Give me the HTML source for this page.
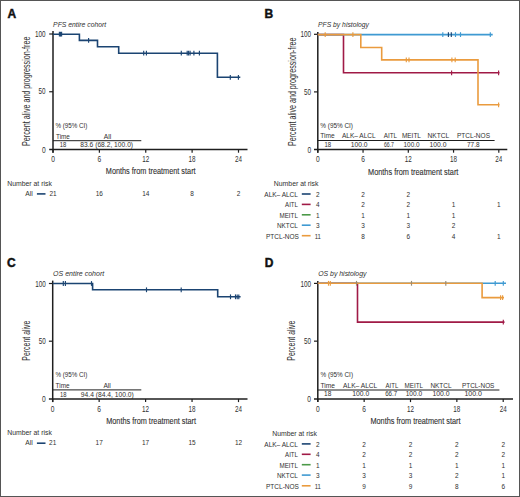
<!DOCTYPE html>
<html><head><meta charset="utf-8"><style>
html,body{margin:0;padding:0;background:#fff;}
svg{display:block;}
text{font-family:"Liberation Sans",sans-serif;}
</style></head><body>
<svg width="520" height="497" viewBox="0 0 520 497" fill="#303030">
<rect width="520" height="497" fill="#fff"/>
<rect x="0.5" y="0.5" width="519" height="496" fill="none" stroke="#555" stroke-width="1"/>
<text x="7.40" y="17.50" font-size="12" font-weight="bold" fill="#111" stroke="#111" stroke-width="0.45">A</text>
<text x="264.60" y="17.50" font-size="12" font-weight="bold" fill="#111" stroke="#111" stroke-width="0.45">B</text>
<text x="6.90" y="266.80" font-size="12" font-weight="bold" fill="#111" stroke="#111" stroke-width="0.45">C</text>
<text x="264.80" y="266.80" font-size="12" font-weight="bold" fill="#111" stroke="#111" stroke-width="0.45">D</text>
<text x="53.10" y="26.50" font-size="7.7" font-style="italic" textLength="53.10" lengthAdjust="spacingAndGlyphs">PFS entire cohort</text>
<text x="318.10" y="26.50" font-size="7.7" font-style="italic" textLength="50.70" lengthAdjust="spacingAndGlyphs">PFS by histology</text>
<text x="53.10" y="276.10" font-size="7.7" font-style="italic" textLength="51.10" lengthAdjust="spacingAndGlyphs">OS entire cohort</text>
<text x="318.20" y="276.10" font-size="7.7" font-style="italic" textLength="48.30" lengthAdjust="spacingAndGlyphs">OS by histology</text>
<text x="105.80" y="174.40" font-size="9.8" textLength="89.80" lengthAdjust="spacingAndGlyphs" stroke="#303030" stroke-width="0.12">Months from treatment start</text>
<text x="368.00" y="174.80" font-size="9.8" textLength="90.40" lengthAdjust="spacingAndGlyphs" stroke="#303030" stroke-width="0.12">Months from treatment start</text>
<text x="106.20" y="423.90" font-size="9.8" textLength="89.80" lengthAdjust="spacingAndGlyphs" stroke="#303030" stroke-width="0.12">Months from treatment start</text>
<text x="370.40" y="424.20" font-size="9.8" textLength="90.10" lengthAdjust="spacingAndGlyphs" stroke="#303030" stroke-width="0.12">Months from treatment start</text>
<text transform="translate(30.00,145.90) rotate(-90)" x="0" y="0" font-size="10.0" textLength="109.30" lengthAdjust="spacingAndGlyphs">Percent alive and progression-free</text>
<text transform="translate(295.60,145.90) rotate(-90)" x="0" y="0" font-size="10.0" textLength="108.30" lengthAdjust="spacingAndGlyphs">Percent alive and progression-free</text>
<text transform="translate(29.60,360.70) rotate(-90)" x="0" y="0" font-size="10.0" textLength="40.10" lengthAdjust="spacingAndGlyphs">Percent alive</text>
<text transform="translate(295.40,360.70) rotate(-90)" x="0" y="0" font-size="10.0" textLength="40.10" lengthAdjust="spacingAndGlyphs">Percent alive</text>
<text x="55.50" y="128.10" font-size="6.5" textLength="31.90" lengthAdjust="spacingAndGlyphs">% (95% CI)</text>
<text x="56.00" y="138.50" font-size="6.5" textLength="13.90" lengthAdjust="spacingAndGlyphs">Time</text>
<text x="103.80" y="138.50" font-size="6.5" textLength="7.40" lengthAdjust="spacingAndGlyphs">All</text>
<line x1="53.00" y1="140.70" x2="141.30" y2="140.70" stroke="#1e1e1e" stroke-width="1.0"/>
<text x="59.80" y="146.90" font-size="6.5" textLength="6.50" lengthAdjust="spacingAndGlyphs">18</text>
<text x="80.30" y="146.90" font-size="6.5" textLength="52.80" lengthAdjust="spacingAndGlyphs">83.6 (68.2, 100.0)</text>
<text x="55.40" y="377.20" font-size="6.5" textLength="31.90" lengthAdjust="spacingAndGlyphs">% (95% CI)</text>
<text x="55.60" y="387.60" font-size="6.5" textLength="14.00" lengthAdjust="spacingAndGlyphs">Time</text>
<text x="103.40" y="387.60" font-size="6.5" textLength="7.40" lengthAdjust="spacingAndGlyphs">All</text>
<line x1="52.70" y1="389.90" x2="141.30" y2="389.90" stroke="#1e1e1e" stroke-width="1.0"/>
<text x="60.00" y="396.50" font-size="6.5" textLength="6.50" lengthAdjust="spacingAndGlyphs">18</text>
<text x="80.80" y="396.50" font-size="6.5" textLength="53.00" lengthAdjust="spacingAndGlyphs">94.4 (84.4, 100.0)</text>
<text x="320.30" y="127.80" font-size="6.5" textLength="32.70" lengthAdjust="spacingAndGlyphs">% (95% CI)</text>
<text x="320.30" y="138.10" font-size="6.5" textLength="14.40" lengthAdjust="spacingAndGlyphs">Time</text>
<text x="342.00" y="138.10" font-size="6.5" textLength="33.60" lengthAdjust="spacingAndGlyphs">ALK– ALCL</text>
<text x="383.80" y="138.10" font-size="6.5" textLength="13.30" lengthAdjust="spacingAndGlyphs">AITL</text>
<text x="401.90" y="138.10" font-size="6.5" textLength="19.10" lengthAdjust="spacingAndGlyphs">MEITL</text>
<text x="427.60" y="138.10" font-size="6.5" textLength="21.70" lengthAdjust="spacingAndGlyphs">NKTCL</text>
<text x="457.00" y="138.10" font-size="6.5" textLength="33.00" lengthAdjust="spacingAndGlyphs">PTCL-NOS</text>
<line x1="317.80" y1="140.50" x2="494.60" y2="140.50" stroke="#1e1e1e" stroke-width="1.0"/>
<text x="324.50" y="146.70" font-size="6.5" textLength="6.70" lengthAdjust="spacingAndGlyphs">18</text>
<text x="350.70" y="146.70" font-size="6.5" textLength="16.80" lengthAdjust="spacingAndGlyphs">100.0</text>
<text x="383.90" y="146.70" font-size="6.5" textLength="10.10" lengthAdjust="spacingAndGlyphs">66.7</text>
<text x="403.50" y="146.70" font-size="6.5" textLength="16.10" lengthAdjust="spacingAndGlyphs">100.0</text>
<text x="429.50" y="146.70" font-size="6.5" textLength="17.00" lengthAdjust="spacingAndGlyphs">100.0</text>
<text x="467.00" y="146.70" font-size="6.5" textLength="12.60" lengthAdjust="spacingAndGlyphs">77.8</text>
<text x="320.50" y="377.00" font-size="6.5" textLength="32.50" lengthAdjust="spacingAndGlyphs">% (95% CI)</text>
<text x="320.50" y="387.60" font-size="6.5" textLength="14.50" lengthAdjust="spacingAndGlyphs">Time</text>
<text x="343.10" y="387.60" font-size="6.5" textLength="34.20" lengthAdjust="spacingAndGlyphs">ALK– ALCL</text>
<text x="385.60" y="387.60" font-size="6.5" textLength="12.70" lengthAdjust="spacingAndGlyphs">AITL</text>
<text x="404.50" y="387.60" font-size="6.5" textLength="18.50" lengthAdjust="spacingAndGlyphs">MEITL</text>
<text x="430.40" y="387.60" font-size="6.5" textLength="21.20" lengthAdjust="spacingAndGlyphs">NKTCL</text>
<text x="462.00" y="387.60" font-size="6.5" textLength="32.40" lengthAdjust="spacingAndGlyphs">PTCL-NOS</text>
<line x1="317.80" y1="390.00" x2="499.40" y2="390.00" stroke="#1e1e1e" stroke-width="1.0"/>
<text x="324.10" y="396.40" font-size="6.5" textLength="7.30" lengthAdjust="spacingAndGlyphs">18</text>
<text x="352.20" y="396.40" font-size="6.5" textLength="17.10" lengthAdjust="spacingAndGlyphs">100.0</text>
<text x="385.20" y="396.40" font-size="6.5" textLength="12.00" lengthAdjust="spacingAndGlyphs">66.7</text>
<text x="405.70" y="396.40" font-size="6.5" textLength="16.50" lengthAdjust="spacingAndGlyphs">100.0</text>
<text x="432.40" y="396.40" font-size="6.5" textLength="17.20" lengthAdjust="spacingAndGlyphs">100.0</text>
<text x="464.40" y="396.40" font-size="6.5" textLength="17.60" lengthAdjust="spacingAndGlyphs">100.0</text>
<line x1="53.00" y1="31.00" x2="53.00" y2="152.70" stroke="#1e1e1e" stroke-width="1.5"/>
<line x1="49.20" y1="149.50" x2="247.50" y2="149.50" stroke="#1e1e1e" stroke-width="1.5"/>
<line x1="49.20" y1="34.00" x2="53.00" y2="34.00" stroke="#1e1e1e" stroke-width="1.2"/>
<line x1="49.20" y1="91.75" x2="53.00" y2="91.75" stroke="#1e1e1e" stroke-width="1.2"/>
<line x1="53.00" y1="149.50" x2="53.00" y2="152.70" stroke="#1e1e1e" stroke-width="1.2"/>
<line x1="99.38" y1="149.50" x2="99.38" y2="152.70" stroke="#1e1e1e" stroke-width="1.2"/>
<line x1="145.75" y1="149.50" x2="145.75" y2="152.70" stroke="#1e1e1e" stroke-width="1.2"/>
<line x1="192.12" y1="149.50" x2="192.12" y2="152.70" stroke="#1e1e1e" stroke-width="1.2"/>
<line x1="238.50" y1="149.50" x2="238.50" y2="152.70" stroke="#1e1e1e" stroke-width="1.2"/>
<text x="35.00" y="37.10" font-size="8.2" textLength="10.60" lengthAdjust="spacingAndGlyphs">100</text>
<text x="38.60" y="94.35" font-size="8.2" textLength="7.00" lengthAdjust="spacingAndGlyphs">50</text>
<text x="41.90" y="152.60" font-size="8.2" textLength="3.70" lengthAdjust="spacingAndGlyphs">0</text>
<text x="51.15" y="162.30" font-size="8.2" textLength="3.70" lengthAdjust="spacingAndGlyphs">0</text>
<text x="97.53" y="162.30" font-size="8.2" textLength="3.70" lengthAdjust="spacingAndGlyphs">6</text>
<text x="142.25" y="162.30" font-size="8.2" textLength="7.00" lengthAdjust="spacingAndGlyphs">12</text>
<text x="188.62" y="162.30" font-size="8.2" textLength="7.00" lengthAdjust="spacingAndGlyphs">18</text>
<text x="235.00" y="162.30" font-size="8.2" textLength="7.00" lengthAdjust="spacingAndGlyphs">24</text>
<line x1="317.80" y1="32.00" x2="317.80" y2="152.70" stroke="#1e1e1e" stroke-width="1.5"/>
<line x1="314.00" y1="149.50" x2="507.30" y2="149.50" stroke="#1e1e1e" stroke-width="1.5"/>
<line x1="314.00" y1="34.30" x2="317.80" y2="34.30" stroke="#1e1e1e" stroke-width="1.2"/>
<line x1="314.00" y1="91.90" x2="317.80" y2="91.90" stroke="#1e1e1e" stroke-width="1.2"/>
<line x1="317.80" y1="149.50" x2="317.80" y2="152.70" stroke="#1e1e1e" stroke-width="1.2"/>
<line x1="363.05" y1="149.50" x2="363.05" y2="152.70" stroke="#1e1e1e" stroke-width="1.2"/>
<line x1="408.30" y1="149.50" x2="408.30" y2="152.70" stroke="#1e1e1e" stroke-width="1.2"/>
<line x1="453.55" y1="149.50" x2="453.55" y2="152.70" stroke="#1e1e1e" stroke-width="1.2"/>
<line x1="498.80" y1="149.50" x2="498.80" y2="152.70" stroke="#1e1e1e" stroke-width="1.2"/>
<text x="300.50" y="37.40" font-size="8.2" textLength="10.60" lengthAdjust="spacingAndGlyphs">100</text>
<text x="304.10" y="94.50" font-size="8.2" textLength="7.00" lengthAdjust="spacingAndGlyphs">50</text>
<text x="307.40" y="152.60" font-size="8.2" textLength="3.70" lengthAdjust="spacingAndGlyphs">0</text>
<text x="315.95" y="162.30" font-size="8.2" textLength="3.70" lengthAdjust="spacingAndGlyphs">0</text>
<text x="361.20" y="162.30" font-size="8.2" textLength="3.70" lengthAdjust="spacingAndGlyphs">6</text>
<text x="404.80" y="162.30" font-size="8.2" textLength="7.00" lengthAdjust="spacingAndGlyphs">12</text>
<text x="450.05" y="162.30" font-size="8.2" textLength="7.00" lengthAdjust="spacingAndGlyphs">18</text>
<text x="495.30" y="162.30" font-size="8.2" textLength="7.00" lengthAdjust="spacingAndGlyphs">24</text>
<line x1="52.70" y1="280.60" x2="52.70" y2="402.10" stroke="#1e1e1e" stroke-width="1.5"/>
<line x1="48.90" y1="398.90" x2="247.50" y2="398.90" stroke="#1e1e1e" stroke-width="1.5"/>
<line x1="48.90" y1="283.50" x2="52.70" y2="283.50" stroke="#1e1e1e" stroke-width="1.2"/>
<line x1="48.90" y1="341.20" x2="52.70" y2="341.20" stroke="#1e1e1e" stroke-width="1.2"/>
<line x1="52.70" y1="398.90" x2="52.70" y2="402.10" stroke="#1e1e1e" stroke-width="1.2"/>
<line x1="99.15" y1="398.90" x2="99.15" y2="402.10" stroke="#1e1e1e" stroke-width="1.2"/>
<line x1="145.60" y1="398.90" x2="145.60" y2="402.10" stroke="#1e1e1e" stroke-width="1.2"/>
<line x1="192.05" y1="398.90" x2="192.05" y2="402.10" stroke="#1e1e1e" stroke-width="1.2"/>
<line x1="238.50" y1="398.90" x2="238.50" y2="402.10" stroke="#1e1e1e" stroke-width="1.2"/>
<text x="35.20" y="286.60" font-size="8.2" textLength="10.60" lengthAdjust="spacingAndGlyphs">100</text>
<text x="38.80" y="343.80" font-size="8.2" textLength="7.00" lengthAdjust="spacingAndGlyphs">50</text>
<text x="42.10" y="402.00" font-size="8.2" textLength="3.70" lengthAdjust="spacingAndGlyphs">0</text>
<text x="50.85" y="411.70" font-size="8.2" textLength="3.70" lengthAdjust="spacingAndGlyphs">0</text>
<text x="97.30" y="411.70" font-size="8.2" textLength="3.70" lengthAdjust="spacingAndGlyphs">6</text>
<text x="142.10" y="411.70" font-size="8.2" textLength="7.00" lengthAdjust="spacingAndGlyphs">12</text>
<text x="188.55" y="411.70" font-size="8.2" textLength="7.00" lengthAdjust="spacingAndGlyphs">18</text>
<text x="235.00" y="411.70" font-size="8.2" textLength="7.00" lengthAdjust="spacingAndGlyphs">24</text>
<line x1="317.80" y1="281.00" x2="317.80" y2="402.10" stroke="#1e1e1e" stroke-width="1.5"/>
<line x1="314.00" y1="398.90" x2="513.00" y2="398.90" stroke="#1e1e1e" stroke-width="1.5"/>
<line x1="314.00" y1="283.40" x2="317.80" y2="283.40" stroke="#1e1e1e" stroke-width="1.2"/>
<line x1="314.00" y1="341.15" x2="317.80" y2="341.15" stroke="#1e1e1e" stroke-width="1.2"/>
<line x1="317.80" y1="398.90" x2="317.80" y2="402.10" stroke="#1e1e1e" stroke-width="1.2"/>
<line x1="364.15" y1="398.90" x2="364.15" y2="402.10" stroke="#1e1e1e" stroke-width="1.2"/>
<line x1="410.50" y1="398.90" x2="410.50" y2="402.10" stroke="#1e1e1e" stroke-width="1.2"/>
<line x1="456.85" y1="398.90" x2="456.85" y2="402.10" stroke="#1e1e1e" stroke-width="1.2"/>
<line x1="503.20" y1="398.90" x2="503.20" y2="402.10" stroke="#1e1e1e" stroke-width="1.2"/>
<text x="300.40" y="286.50" font-size="8.2" textLength="10.60" lengthAdjust="spacingAndGlyphs">100</text>
<text x="304.00" y="343.75" font-size="8.2" textLength="7.00" lengthAdjust="spacingAndGlyphs">50</text>
<text x="307.30" y="402.00" font-size="8.2" textLength="3.70" lengthAdjust="spacingAndGlyphs">0</text>
<text x="315.95" y="411.70" font-size="8.2" textLength="3.70" lengthAdjust="spacingAndGlyphs">0</text>
<text x="362.30" y="411.70" font-size="8.2" textLength="3.70" lengthAdjust="spacingAndGlyphs">6</text>
<text x="407.00" y="411.70" font-size="8.2" textLength="7.00" lengthAdjust="spacingAndGlyphs">12</text>
<text x="453.35" y="411.70" font-size="8.2" textLength="7.00" lengthAdjust="spacingAndGlyphs">18</text>
<text x="499.70" y="411.70" font-size="8.2" textLength="7.00" lengthAdjust="spacingAndGlyphs">24</text>
<path d="M53.00,34.20 L79.40,34.20 L79.40,40.40 L97.50,40.40 L97.50,46.80 L118.70,46.80 L118.70,53.20 L217.40,53.20 L217.40,77.30 L240.30,77.30" fill="none" stroke="#1b4472" stroke-width="1.6" stroke-linejoin="miter" stroke-linecap="butt"/>
<line x1="59.40" y1="31.80" x2="59.40" y2="36.60" stroke="#1b4472" stroke-width="1.15"/>
<line x1="60.50" y1="31.80" x2="60.50" y2="36.60" stroke="#1b4472" stroke-width="1.15"/>
<line x1="61.60" y1="31.80" x2="61.60" y2="36.60" stroke="#1b4472" stroke-width="1.15"/>
<line x1="88.60" y1="38.00" x2="88.60" y2="42.80" stroke="#1b4472" stroke-width="1.15"/>
<line x1="143.70" y1="50.80" x2="143.70" y2="55.60" stroke="#1b4472" stroke-width="1.15"/>
<line x1="146.40" y1="50.80" x2="146.40" y2="55.60" stroke="#1b4472" stroke-width="1.15"/>
<line x1="181.30" y1="50.80" x2="181.30" y2="55.60" stroke="#1b4472" stroke-width="1.15"/>
<line x1="187.20" y1="50.80" x2="187.20" y2="55.60" stroke="#1b4472" stroke-width="1.15"/>
<line x1="188.60" y1="50.80" x2="188.60" y2="55.60" stroke="#1b4472" stroke-width="1.15"/>
<line x1="190.10" y1="50.80" x2="190.10" y2="55.60" stroke="#1b4472" stroke-width="1.15"/>
<line x1="193.90" y1="50.80" x2="193.90" y2="55.60" stroke="#1b4472" stroke-width="1.15"/>
<line x1="199.40" y1="50.80" x2="199.40" y2="55.60" stroke="#1b4472" stroke-width="1.15"/>
<line x1="230.30" y1="74.90" x2="230.30" y2="79.70" stroke="#1b4472" stroke-width="1.15"/>
<line x1="238.40" y1="74.90" x2="238.40" y2="79.70" stroke="#1b4472" stroke-width="1.15"/>
<path d="M317.80,34.60 L343.50,34.60 L343.50,72.80 L499.50,72.80" fill="none" stroke="#a01a46" stroke-width="1.6" stroke-linejoin="miter" stroke-linecap="butt"/>
<path d="M317.80,34.60 L492.70,34.60" fill="none" stroke="#3f9ad2" stroke-width="1.6" stroke-linejoin="miter" stroke-linecap="butt"/>
<line x1="442.80" y1="32.20" x2="442.80" y2="37.00" stroke="#3f9ad2" stroke-width="1.15"/>
<line x1="455.50" y1="32.20" x2="455.50" y2="37.00" stroke="#3f9ad2" stroke-width="1.15"/>
<line x1="460.50" y1="32.20" x2="460.50" y2="37.00" stroke="#3f9ad2" stroke-width="1.15"/>
<line x1="490.30" y1="32.20" x2="490.30" y2="37.00" stroke="#3f9ad2" stroke-width="1.15"/>
<line x1="448.40" y1="32.20" x2="448.40" y2="37.00" stroke="#1b4472" stroke-width="1.15"/>
<line x1="451.30" y1="32.20" x2="451.30" y2="37.00" stroke="#1b4472" stroke-width="1.15"/>
<line x1="451.60" y1="70.40" x2="451.60" y2="75.20" stroke="#a01a46" stroke-width="1.15"/>
<line x1="498.60" y1="70.40" x2="498.60" y2="75.20" stroke="#a01a46" stroke-width="1.15"/>
<path d="M317.80,34.60 L360.80,34.60 L360.80,47.50 L381.70,47.50 L381.70,59.90 L478.00,59.90 L478.00,104.80 L499.50,104.80" fill="none" stroke="#ea9b3e" stroke-width="1.6" stroke-linejoin="miter" stroke-linecap="butt"/>
<line x1="325.20" y1="32.20" x2="325.20" y2="37.00" stroke="#ea9b3e" stroke-width="1.15"/>
<line x1="352.90" y1="32.20" x2="352.90" y2="37.00" stroke="#ea9b3e" stroke-width="1.15"/>
<line x1="406.30" y1="57.50" x2="406.30" y2="62.30" stroke="#ea9b3e" stroke-width="1.15"/>
<line x1="409.00" y1="57.50" x2="409.00" y2="62.30" stroke="#ea9b3e" stroke-width="1.15"/>
<line x1="451.90" y1="57.50" x2="451.90" y2="62.30" stroke="#ea9b3e" stroke-width="1.15"/>
<line x1="455.20" y1="57.50" x2="455.20" y2="62.30" stroke="#ea9b3e" stroke-width="1.15"/>
<line x1="498.60" y1="102.40" x2="498.60" y2="107.20" stroke="#ea9b3e" stroke-width="1.15"/>
<path d="M52.70,283.50 L92.60,283.50 L92.60,289.80 L217.70,289.80 L217.70,296.80 L240.60,296.80" fill="none" stroke="#1b4472" stroke-width="1.6" stroke-linejoin="miter" stroke-linecap="butt"/>
<line x1="63.30" y1="281.10" x2="63.30" y2="285.90" stroke="#1b4472" stroke-width="1.15"/>
<line x1="65.40" y1="281.10" x2="65.40" y2="285.90" stroke="#1b4472" stroke-width="1.15"/>
<line x1="91.50" y1="281.10" x2="91.50" y2="285.90" stroke="#1b4472" stroke-width="1.15"/>
<line x1="146.50" y1="287.40" x2="146.50" y2="292.20" stroke="#1b4472" stroke-width="1.15"/>
<line x1="181.20" y1="287.40" x2="181.20" y2="292.20" stroke="#1b4472" stroke-width="1.15"/>
<line x1="230.50" y1="294.40" x2="230.50" y2="299.20" stroke="#1b4472" stroke-width="1.15"/>
<line x1="235.50" y1="294.40" x2="235.50" y2="299.20" stroke="#1b4472" stroke-width="1.15"/>
<line x1="237.20" y1="294.40" x2="237.20" y2="299.20" stroke="#1b4472" stroke-width="1.15"/>
<line x1="238.80" y1="294.40" x2="238.80" y2="299.20" stroke="#1b4472" stroke-width="1.15"/>
<path d="M317.80,283.30 L357.50,283.30 L357.50,322.10 L504.50,322.10" fill="none" stroke="#a01a46" stroke-width="1.6" stroke-linejoin="miter" stroke-linecap="butt"/>
<path d="M317.80,283.30 L506.00,283.30" fill="none" stroke="#3f9ad2" stroke-width="1.6" stroke-linejoin="miter" stroke-linecap="butt"/>
<line x1="495.20" y1="280.90" x2="495.20" y2="285.70" stroke="#3f9ad2" stroke-width="1.15"/>
<line x1="503.30" y1="280.90" x2="503.30" y2="285.70" stroke="#3f9ad2" stroke-width="1.15"/>
<line x1="503.30" y1="319.70" x2="503.30" y2="324.50" stroke="#a01a46" stroke-width="1.15"/>
<path d="M317.80,283.30 L482.10,283.30 L482.10,297.60 L504.00,297.60" fill="none" stroke="#ea9b3e" stroke-width="1.6" stroke-linejoin="miter" stroke-linecap="butt"/>
<line x1="328.50" y1="280.90" x2="328.50" y2="285.70" stroke="#ea9b3e" stroke-width="1.15"/>
<line x1="330.30" y1="280.90" x2="330.30" y2="285.70" stroke="#ea9b3e" stroke-width="1.15"/>
<line x1="356.50" y1="280.90" x2="356.50" y2="285.70" stroke="#9c8c72" stroke-width="1.15"/>
<line x1="411.50" y1="280.90" x2="411.50" y2="285.70" stroke="#9c8c72" stroke-width="1.15"/>
<line x1="445.80" y1="280.90" x2="445.80" y2="285.70" stroke="#9c8c72" stroke-width="1.15"/>
<line x1="500.60" y1="295.20" x2="500.60" y2="300.00" stroke="#ea9b3e" stroke-width="1.15"/>
<line x1="502.60" y1="295.20" x2="502.60" y2="300.00" stroke="#ea9b3e" stroke-width="1.15"/>
<text x="7.20" y="185.50" font-size="6.5" textLength="44.70" lengthAdjust="spacingAndGlyphs">Number at risk</text>
<text x="25.30" y="195.80" font-size="6.5" textLength="7.50" lengthAdjust="spacingAndGlyphs">All</text>
<line x1="36.90" y1="193.90" x2="45.50" y2="193.90" stroke="#1b4472" stroke-width="1.6"/>
<text x="49.40" y="195.80" font-size="6.5" textLength="7.20" lengthAdjust="spacingAndGlyphs">21</text>
<text x="95.78" y="195.80" font-size="6.5" textLength="7.20" lengthAdjust="spacingAndGlyphs">16</text>
<text x="142.15" y="195.80" font-size="6.5" textLength="7.20" lengthAdjust="spacingAndGlyphs">14</text>
<text x="190.32" y="195.80" font-size="6.5" textLength="3.60" lengthAdjust="spacingAndGlyphs">8</text>
<text x="236.70" y="195.80" font-size="6.5" textLength="3.60" lengthAdjust="spacingAndGlyphs">2</text>
<text x="7.20" y="434.80" font-size="6.5" textLength="44.70" lengthAdjust="spacingAndGlyphs">Number at risk</text>
<text x="25.30" y="445.10" font-size="6.5" textLength="7.50" lengthAdjust="spacingAndGlyphs">All</text>
<line x1="36.90" y1="443.20" x2="45.50" y2="443.20" stroke="#1b4472" stroke-width="1.6"/>
<text x="49.10" y="445.10" font-size="6.5" textLength="7.20" lengthAdjust="spacingAndGlyphs">21</text>
<text x="95.55" y="445.10" font-size="6.5" textLength="7.20" lengthAdjust="spacingAndGlyphs">17</text>
<text x="142.00" y="445.10" font-size="6.5" textLength="7.20" lengthAdjust="spacingAndGlyphs">17</text>
<text x="188.45" y="445.10" font-size="6.5" textLength="7.20" lengthAdjust="spacingAndGlyphs">15</text>
<text x="234.90" y="445.10" font-size="6.5" textLength="7.20" lengthAdjust="spacingAndGlyphs">12</text>
<text x="273.80" y="185.90" font-size="6.5" textLength="44.70" lengthAdjust="spacingAndGlyphs">Number at risk</text>
<text x="264.30" y="196.80" font-size="6.5" textLength="33.60" lengthAdjust="spacingAndGlyphs">ALK– ALCL</text>
<line x1="301.80" y1="194.00" x2="310.60" y2="194.00" stroke="#1b4472" stroke-width="1.6"/>
<text x="316.00" y="196.80" font-size="6.5" textLength="3.60" lengthAdjust="spacingAndGlyphs">2</text>
<text x="361.25" y="196.80" font-size="6.5" textLength="3.60" lengthAdjust="spacingAndGlyphs">2</text>
<text x="406.50" y="196.80" font-size="6.5" textLength="3.60" lengthAdjust="spacingAndGlyphs">2</text>
<text x="285.10" y="207.20" font-size="6.5" textLength="12.80" lengthAdjust="spacingAndGlyphs">AITL</text>
<line x1="301.80" y1="204.40" x2="310.60" y2="204.40" stroke="#a01a46" stroke-width="1.6"/>
<text x="316.00" y="207.20" font-size="6.5" textLength="3.60" lengthAdjust="spacingAndGlyphs">4</text>
<text x="361.25" y="207.20" font-size="6.5" textLength="3.60" lengthAdjust="spacingAndGlyphs">2</text>
<text x="406.50" y="207.20" font-size="6.5" textLength="3.60" lengthAdjust="spacingAndGlyphs">2</text>
<text x="451.75" y="207.20" font-size="6.5" textLength="3.60" lengthAdjust="spacingAndGlyphs">1</text>
<text x="497.00" y="207.20" font-size="6.5" textLength="3.60" lengthAdjust="spacingAndGlyphs">1</text>
<text x="279.50" y="217.60" font-size="6.5" textLength="18.40" lengthAdjust="spacingAndGlyphs">MEITL</text>
<line x1="301.80" y1="214.80" x2="310.60" y2="214.80" stroke="#4c9a48" stroke-width="1.6"/>
<text x="316.00" y="217.60" font-size="6.5" textLength="3.60" lengthAdjust="spacingAndGlyphs">1</text>
<text x="361.25" y="217.60" font-size="6.5" textLength="3.60" lengthAdjust="spacingAndGlyphs">1</text>
<text x="406.50" y="217.60" font-size="6.5" textLength="3.60" lengthAdjust="spacingAndGlyphs">1</text>
<text x="451.75" y="217.60" font-size="6.5" textLength="3.60" lengthAdjust="spacingAndGlyphs">1</text>
<text x="277.00" y="228.00" font-size="6.5" textLength="20.90" lengthAdjust="spacingAndGlyphs">NKTCL</text>
<line x1="301.80" y1="225.20" x2="310.60" y2="225.20" stroke="#3f9ad2" stroke-width="1.6"/>
<text x="316.00" y="228.00" font-size="6.5" textLength="3.60" lengthAdjust="spacingAndGlyphs">3</text>
<text x="361.25" y="228.00" font-size="6.5" textLength="3.60" lengthAdjust="spacingAndGlyphs">3</text>
<text x="406.50" y="228.00" font-size="6.5" textLength="3.60" lengthAdjust="spacingAndGlyphs">3</text>
<text x="451.75" y="228.00" font-size="6.5" textLength="3.60" lengthAdjust="spacingAndGlyphs">2</text>
<text x="266.00" y="238.50" font-size="6.5" textLength="32.90" lengthAdjust="spacingAndGlyphs">PTCL-NOS</text>
<line x1="301.80" y1="235.70" x2="310.60" y2="235.70" stroke="#ea9b3e" stroke-width="1.6"/>
<text x="314.70" y="238.50" font-size="6.5" textLength="6.20" lengthAdjust="spacingAndGlyphs">11</text>
<text x="361.25" y="238.50" font-size="6.5" textLength="3.60" lengthAdjust="spacingAndGlyphs">8</text>
<text x="406.50" y="238.50" font-size="6.5" textLength="3.60" lengthAdjust="spacingAndGlyphs">6</text>
<text x="451.75" y="238.50" font-size="6.5" textLength="3.60" lengthAdjust="spacingAndGlyphs">4</text>
<text x="497.00" y="238.50" font-size="6.5" textLength="3.60" lengthAdjust="spacingAndGlyphs">1</text>
<text x="272.20" y="435.50" font-size="6.5" textLength="44.70" lengthAdjust="spacingAndGlyphs">Number at risk</text>
<text x="264.30" y="446.70" font-size="6.5" textLength="33.60" lengthAdjust="spacingAndGlyphs">ALK– ALCL</text>
<line x1="301.80" y1="443.90" x2="310.60" y2="443.90" stroke="#1b4472" stroke-width="1.6"/>
<text x="316.00" y="446.70" font-size="6.5" textLength="3.60" lengthAdjust="spacingAndGlyphs">2</text>
<text x="362.35" y="446.70" font-size="6.5" textLength="3.60" lengthAdjust="spacingAndGlyphs">2</text>
<text x="408.70" y="446.70" font-size="6.5" textLength="3.60" lengthAdjust="spacingAndGlyphs">2</text>
<text x="455.05" y="446.70" font-size="6.5" textLength="3.60" lengthAdjust="spacingAndGlyphs">2</text>
<text x="501.40" y="446.70" font-size="6.5" textLength="3.60" lengthAdjust="spacingAndGlyphs">2</text>
<text x="285.10" y="457.10" font-size="6.5" textLength="12.80" lengthAdjust="spacingAndGlyphs">AITL</text>
<line x1="301.80" y1="454.30" x2="310.60" y2="454.30" stroke="#a01a46" stroke-width="1.6"/>
<text x="316.00" y="457.10" font-size="6.5" textLength="3.60" lengthAdjust="spacingAndGlyphs">4</text>
<text x="362.35" y="457.10" font-size="6.5" textLength="3.60" lengthAdjust="spacingAndGlyphs">2</text>
<text x="408.70" y="457.10" font-size="6.5" textLength="3.60" lengthAdjust="spacingAndGlyphs">2</text>
<text x="455.05" y="457.10" font-size="6.5" textLength="3.60" lengthAdjust="spacingAndGlyphs">2</text>
<text x="501.40" y="457.10" font-size="6.5" textLength="3.60" lengthAdjust="spacingAndGlyphs">2</text>
<text x="279.50" y="467.50" font-size="6.5" textLength="18.40" lengthAdjust="spacingAndGlyphs">MEITL</text>
<line x1="301.80" y1="464.70" x2="310.60" y2="464.70" stroke="#4c9a48" stroke-width="1.6"/>
<text x="316.00" y="467.50" font-size="6.5" textLength="3.60" lengthAdjust="spacingAndGlyphs">1</text>
<text x="362.35" y="467.50" font-size="6.5" textLength="3.60" lengthAdjust="spacingAndGlyphs">1</text>
<text x="408.70" y="467.50" font-size="6.5" textLength="3.60" lengthAdjust="spacingAndGlyphs">1</text>
<text x="455.05" y="467.50" font-size="6.5" textLength="3.60" lengthAdjust="spacingAndGlyphs">1</text>
<text x="501.40" y="467.50" font-size="6.5" textLength="3.60" lengthAdjust="spacingAndGlyphs">1</text>
<text x="277.00" y="477.90" font-size="6.5" textLength="20.90" lengthAdjust="spacingAndGlyphs">NKTCL</text>
<line x1="301.80" y1="475.10" x2="310.60" y2="475.10" stroke="#3f9ad2" stroke-width="1.6"/>
<text x="316.00" y="477.90" font-size="6.5" textLength="3.60" lengthAdjust="spacingAndGlyphs">3</text>
<text x="362.35" y="477.90" font-size="6.5" textLength="3.60" lengthAdjust="spacingAndGlyphs">3</text>
<text x="408.70" y="477.90" font-size="6.5" textLength="3.60" lengthAdjust="spacingAndGlyphs">3</text>
<text x="455.05" y="477.90" font-size="6.5" textLength="3.60" lengthAdjust="spacingAndGlyphs">2</text>
<text x="501.40" y="477.90" font-size="6.5" textLength="3.60" lengthAdjust="spacingAndGlyphs">1</text>
<text x="266.00" y="488.60" font-size="6.5" textLength="32.90" lengthAdjust="spacingAndGlyphs">PTCL-NOS</text>
<line x1="301.80" y1="485.80" x2="310.60" y2="485.80" stroke="#ea9b3e" stroke-width="1.6"/>
<text x="314.70" y="488.60" font-size="6.5" textLength="6.20" lengthAdjust="spacingAndGlyphs">11</text>
<text x="362.35" y="488.60" font-size="6.5" textLength="3.60" lengthAdjust="spacingAndGlyphs">9</text>
<text x="408.70" y="488.60" font-size="6.5" textLength="3.60" lengthAdjust="spacingAndGlyphs">9</text>
<text x="455.05" y="488.60" font-size="6.5" textLength="3.60" lengthAdjust="spacingAndGlyphs">8</text>
<text x="501.40" y="488.60" font-size="6.5" textLength="3.60" lengthAdjust="spacingAndGlyphs">6</text>
</svg>
</body></html>
